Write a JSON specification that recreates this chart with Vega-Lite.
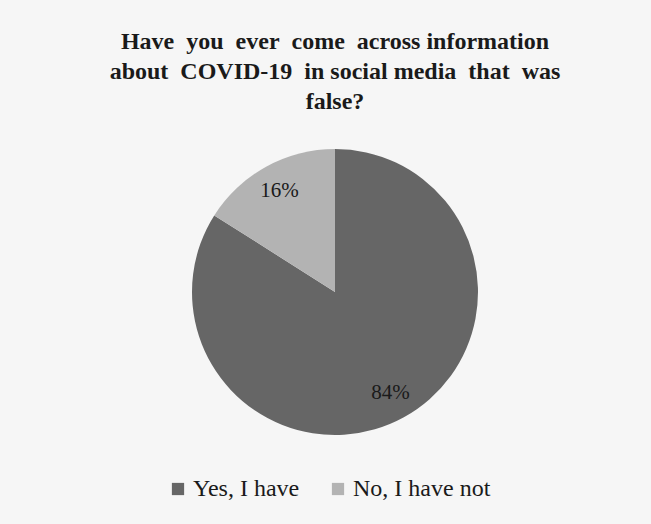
{
  "$schema": "https://vega.github.io/schema/vega-lite/v6.json",
  "autosize": {"type": "none"},
  "padding": {"left": 192, "top": 149, "right": 173, "bottom": 89},
  "width": 286,
  "height": 286,
  "background": "#f6f6f6",
  "title": {
    "text": ["Have\u00a0\u00a0you\u00a0\u00a0ever\u00a0\u00a0come\u00a0\u00a0across information", "about\u00a0\u00a0COVID-19\u00a0\u00a0in social media\u00a0\u00a0that\u00a0\u00a0was", "false?"],
    "font": "Liberation Serif",
    "fontSize": 24,
    "fontWeight": "bold",
    "color": "#1a1a1a",
    "lineHeight": 30,
    "anchor": "middle",
    "offset": 35
  },
  "data": {
    "values": [
      {"answer": "Yes, I have", "pct": 84, "label": "84%", "ord": 1},
      {"answer": "No, I have not", "pct": 16, "label": "16%", "ord": 2}
    ]
  },
  "encoding": {
    "theta": {"field": "pct", "type": "quantitative", "stack": true},
    "order": {"field": "ord", "type": "quantitative"}
  },
  "layer": [
    {
      "mark": {"type": "arc", "radius": 143, "stroke": null},
      "encoding": {
        "color": {
          "field": "answer",
          "type": "nominal",
          "sort": ["Yes, I have", "No, I have not"],
          "scale": {"domain": ["Yes, I have", "No, I have not"], "range": ["#666666", "#b3b3b3"]},
          "legend": {
            "title": null,
            "orient": "none",
            "legendX": -26,
            "legendY": 328,
            "direction": "horizontal",
            "symbolType": "square",
            "symbolSize": 150,
            "symbolStrokeWidth": 0,
            "labelFont": "Liberation Serif",
            "labelFontSize": 24,
            "labelColor": "#1a1a1a",
            "columnPadding": 26,
            "labelOffset": 3
          }
        }
      }
    },
    {
      "mark": {"type": "text", "radius": 115, "font": "Liberation Serif", "fontSize": 21, "color": "#1a1a1a"},
      "encoding": {
        "text": {"field": "label", "type": "nominal"}
      }
    }
  ]
}
